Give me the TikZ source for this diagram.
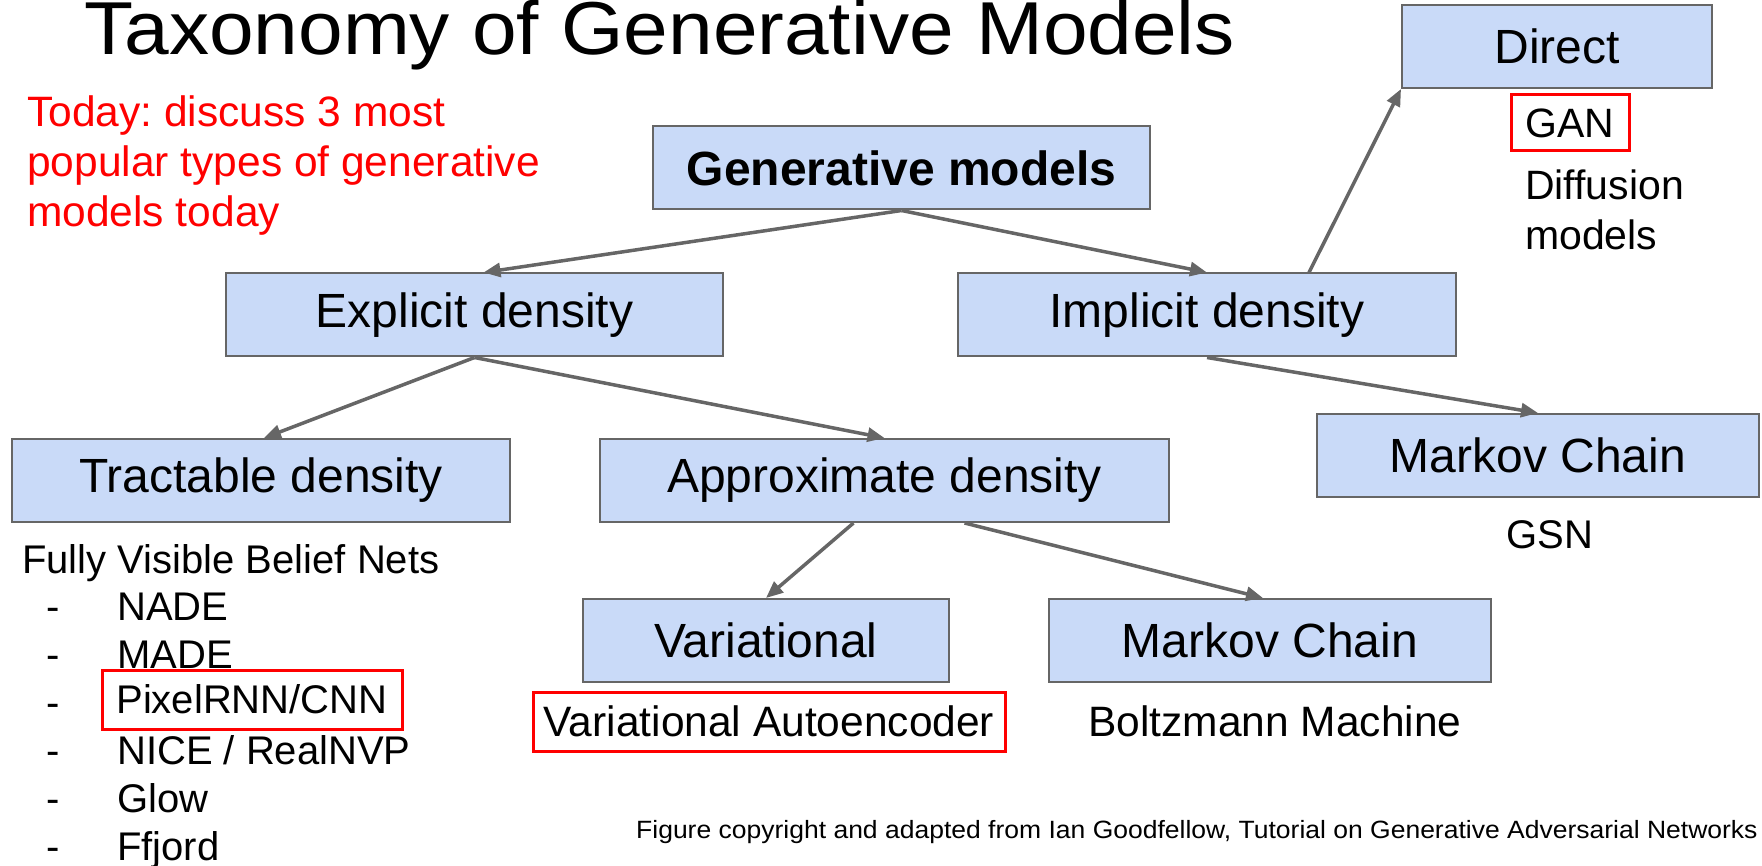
\documentclass[tikz,border=0pt]{standalone}
\usepackage{fontspec}
\setmainfont{Liberation Sans}
\frenchspacing
\usetikzlibrary{arrows.meta}
\definecolor{boxblue}{HTML}{C9DAF8}
\definecolor{linegray}{HTML}{666666}
\tikzset{
  pick/.style={draw=red,line width=3pt,inner sep=0pt,font=\fontsize{42.5}{48}\selectfont},
  plain/.style={inner sep=0pt,anchor=base west,font=\fontsize{40}{48}\selectfont}
}
\begin{document}
\begin{tikzpicture}[x=1pt,y=-1pt]
        \useasboundingbox (0,0) rectangle (1762,866);
        \node[anchor=base west,inner sep=0pt,font=\fontsize{75}{80}\selectfont] (title) at (84,55) {\scalebox{1.07}[1]{Taxonomy of Generative Models}};
        \node[anchor=base west,inner sep=0pt,align=left,text=red,font=\fontsize{42.5}{50}\selectfont] (today) at (27,227) {Today: discuss 3 most\\popular types of generative\\models today};
        \begin{scope}[every node/.style={draw=linegray,line width=2pt,fill=boxblue,inner sep=0pt,minimum height=83pt,font=\fontsize{48}{56}\selectfont}]
        \node[minimum width=497pt] (gen) at (901.5,168) {\bfseries Generative models};
        \node[minimum width=497pt] (explicit) at (474.5,315) {Explicit density};
        \node[minimum width=498pt] (implicit) at (1207,315) {Implicit density};
        \node[minimum width=310pt] (direct) at (1557,46.5) {Direct};
        \node[minimum width=498pt] (tractable) at (261,480.5) {Tractable density};
        \node[minimum width=569pt] (approx) at (884.5,480.5) {Approximate density};
        \node[minimum width=442pt] (markovr) at (1538,455.5) {Markov Chain};
        \node[minimum width=366pt] (variational) at (766,640.5) {Variational};
        \node[minimum width=442pt] (markovm) at (1270,640.5) {Markov Chain};
        \end{scope}
        \node[pick,minimum width=118pt,minimum height=56pt,font=\fontsize{41}{48}\selectfont] (gan) at (1570,123) {GAN};
        \node[plain,align=left,font=\fontsize{41}{50}\selectfont] (diffusion) at (1525,250) {Diffusion\\models};
        \node[plain,anchor=base] (gsn) at (1550,548) {GSN};
        \node[pick,minimum width=472pt,minimum height=59pt] (vae) at (769,721.5) {Variational Autoencoder};
        \node[plain,font=\fontsize{42.5}{48}\selectfont] (boltzmann) at (1088,736) {Boltzmann Machine};
        \node[plain] (fvbn) at (22,573) {Fully Visible Belief Nets};
        \foreach \y in {620,668,716,764,812,860}
          \node[plain] at (46,\y) {-};
        \node[plain] (nade) at (117,620) {NADE};
        \node[plain] (made) at (117,668) {MADE};
        \node[pick,minimum width=300pt,minimum height=59pt,font=\fontsize{40}{48}\selectfont] (pixel) at (252,699.5) {PixelRNN/CNN};
        \node[plain] (nice) at (117,764) {NICE / RealNVP};
        \node[plain] (glow) at (117,812) {Glow};
        \node[plain] (ffjord) at (117,860) {Ffjord};
        \node[anchor=base west,inner sep=0pt,font=\fontsize{25}{28}\selectfont] (credit) at (636,838) {\scalebox{1.06}[1]{Figure copyright and adapted from Ian Goodfellow, Tutorial on Generative Adversarial Networks}};
        \begin{scope}[every edge/.style={draw=linegray,line width=3.5pt,-{Triangle[length=17pt,width=14pt]}}]
        \path (gen.south) edge ([xshift=9pt]explicit.north);
        \path (gen.south) edge (implicit.north);
        \path ([xshift=102pt]implicit.north) edge (direct.south west);
        \path (explicit.south) edge ([xshift=3pt]tractable.north);
        \path (explicit.south) edge (approx.north);
        \path (implicit.south) edge (markovr.north);
        \path ([xshift=-31pt]approx.south) edge (variational.north);
        \path ([xshift=80pt]approx.south) edge ([xshift=-7pt]markovm.north);
        \end{scope}
\end{tikzpicture}
\end{document}
